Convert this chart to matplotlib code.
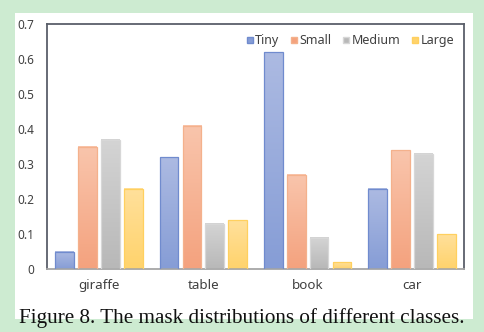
import matplotlib.pyplot as plt
import numpy as np
from matplotlib.patches import Rectangle
from matplotlib.lines import Line2D

classes = ["giraffe", "table", "book", "car"]
sizes = ["Tiny", "Small", "Medium", "Large"]
tiny = [0.05, 0.32, 0.62, 0.23]
small = [0.35, 0.41, 0.27, 0.34]
medium = [0.37, 0.13, 0.09, 0.33]
large = [0.23, 0.14, 0.02, 0.10]
series = [tiny, small, medium, large]

# (top colour, bottom colour, edge colour) for each size
shades = [
    ((172, 186, 226), (134, 157, 214), (112, 139, 206)),
    ((249, 197, 172), (244, 162, 126), (244, 177, 140)),
    ((212, 212, 212), (184, 184, 184), (215, 215, 215)),
    ((255, 224, 155), (255, 211, 108), (255, 208, 95)),
]

fig = plt.figure(figsize=(4.84, 3.32), dpi=100, facecolor="#cdebd1")
fig.patches.append(Rectangle((15 / 484, 13 / 332), 458 / 484, 306 / 332,
                             transform=fig.transFigure, facecolor="white",
                             edgecolor="none", zorder=-5))
ax = fig.add_axes([47 / 484, 63 / 332, 417 / 484, 245 / 332])

x = np.arange(len(classes))
width = 0.18
offsets = [-0.33, -0.11, 0.11, 0.33]
for vals, off, (top, bot, edge) in zip(series, offsets, shades):
    grad = np.linspace(np.array(top) / 255, np.array(bot) / 255, 64)[:, None, :]
    for xi, v in zip(x, vals):
        x0 = xi + off - width / 2
        ax.imshow(grad, extent=(x0, x0 + width, 0, v), aspect="auto",
                  origin="upper", zorder=2, interpolation="bilinear")
        ax.add_patch(Rectangle((x0, 0), width, v, facecolor="none",
                               edgecolor=np.array(edge) / 255, lw=0.9, zorder=3))

ax.set_xlim(-0.5, 3.5)
ax.set_ylim(0, 0.7)
ax.set_xticks(x)
ax.set_xticklabels(classes)
ax.set_yticks(np.arange(0, 0.71, 0.1))
ax.set_yticklabels(["0", "0.1", "0.2", "0.3", "0.4", "0.5", "0.6", "0.7"])
ax.tick_params(length=0, labelcolor="#404040")
ax.tick_params(axis="y", pad=9, labelsize=8.5)
ax.tick_params(axis="x", pad=7, labelsize=9.6)
for lab in ax.get_xticklabels() + ax.get_yticklabels():
    lab.set_family("Noto Sans")

for side in ["left", "top", "right"]:
    ax.spines[side].set_color("#5a5f6a")
    ax.spines[side].set_linewidth(1.3)
ax.spines["bottom"].set_color("#a6a6a6")
ax.spines["bottom"].set_linewidth(1.3)

handles = [Line2D([], [], marker="s", ls="none", markersize=4.5,
                  markerfacecolor=np.array(s[1]) / 255,
                  markeredgecolor=np.array(s[2]) / 255) for s in shades]
ax.legend(handles, sizes, ncol=4, loc="upper right", frameon=False,
          bbox_to_anchor=(1.0, 1.0), handlelength=0.5, handletextpad=0.2,
          columnspacing=0.9, borderaxespad=0.4,
          prop={"family": "Noto Sans", "size": 9}, labelcolor="#404040")

fig.text(0.5, 9 / 332, "Figure 8. The mask distributions of different classes.",
         ha="center", va="baseline", family="Liberation Serif", fontsize=15.2,
         color="#111111")

fig.savefig("out.png", dpi=100, facecolor=fig.get_facecolor())
